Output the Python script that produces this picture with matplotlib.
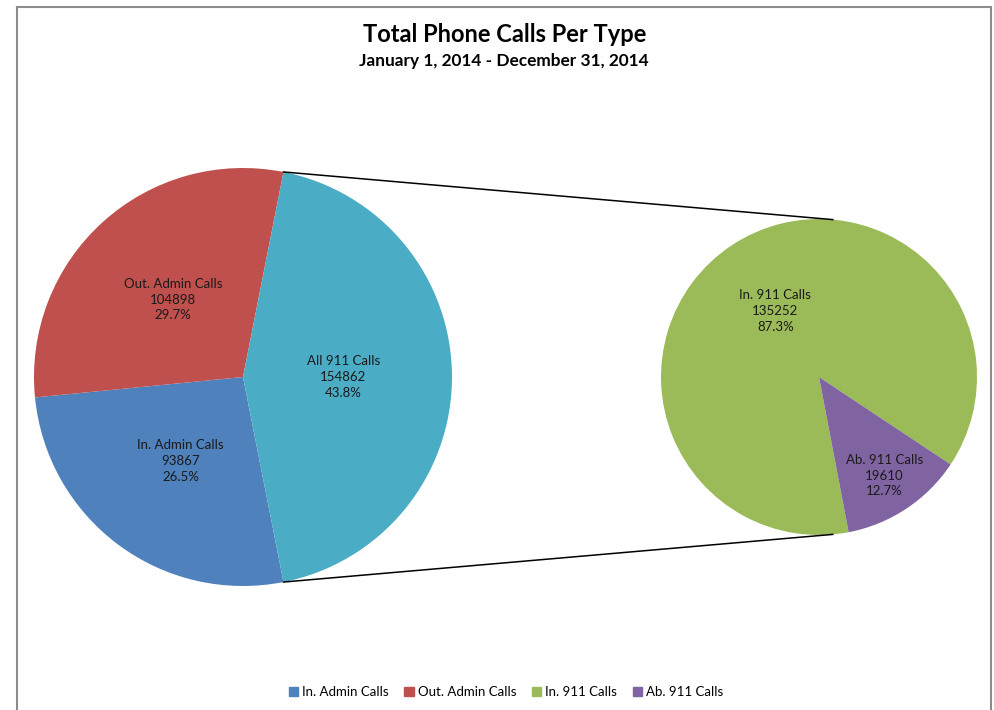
import matplotlib
matplotlib.use("Agg")
import matplotlib.pyplot as plt
import numpy as np
from matplotlib.patches import Patch
from matplotlib.lines import Line2D

plt.rcParams['font.family'] = ['Lato', 'DejaVu Sans']

# main pie: admin calls plus all 911 calls
main_labels = ["In. Admin Calls", "Out. Admin Calls", "All 911 Calls"]
main_values = [93867, 104898, 154862]
main_colors = ["#4F81BD", "#C0504D", "#4BACC6"]

# breakdown of the 911 calls
sub_labels = ["In. 911 Calls", "Ab. 911 Calls"]
sub_values = [135252, 19610]
sub_colors = ["#9BBB59", "#8064A2"]

W, H = 995, 710
fig = plt.figure(figsize=(W / 100, H / 100), dpi=100)
ax = fig.add_axes([0, 0, 1, 1])

c1, r1 = (243, 333), 209
c2, r2 = (819, 333), 158

frac_911 = main_values[2] / sum(main_values)
w1, _ = ax.pie(main_values, colors=main_colors, center=c1, radius=r1,
               startangle=-frac_911 * 180, counterclock=False,
               wedgeprops=dict(linewidth=0), frame=True)
w2, _ = ax.pie(sub_values, colors=sub_colors, center=c2, radius=r2,
               startangle=-33.6, counterclock=True,
               wedgeprops=dict(linewidth=0), frame=True)
ax.set_xlim(0, W)
ax.set_ylim(0, H)
ax.set_aspect('equal')
ax.axis('off')


def put_labels(wedges, labels, values, center, r, dists):
    tot = sum(values)
    for w, lab, v, d in zip(wedges, labels, values, dists):
        mid = np.deg2rad((w.theta1 + w.theta2) / 2)
        x = center[0] + d * r * np.cos(mid)
        y = center[1] + d * r * np.sin(mid)
        ax.text(x, y, f"{lab}\n{v}\n{v / tot * 100:.1f}%", ha='center',
                va='center', fontsize=9.5, color='#1a1a1a', linespacing=1.38)


put_labels(w1, main_labels, main_values, c1, r1, [0.5, 0.5, 0.48])
put_labels(w2, sub_labels, sub_values, c2, r2, [0.5, 0.75])

# connector lines from the 911 slice to the breakdown pie
big = w1[2]
for a1, a2 in [(big.theta1, -85), (big.theta2, 85)]:
    p = np.deg2rad(a1)
    q = np.deg2rad(a2)
    ax.plot([c1[0] + r1 * np.cos(p), c2[0] + r2 * np.cos(q)],
            [c1[1] + r1 * np.sin(p), c2[1] + r2 * np.sin(q)],
            color='black', lw=1.1)

ax.text(505, H - 35, "Total Phone Calls Per Type", ha='center',
        va='center', fontsize=17, fontweight='bold')
ax.text(504, H - 61, "January 1, 2014 - December 31, 2014", ha='center',
        va='center', fontsize=12.4, fontweight='bold')

handles = [Patch(color=c) for c in main_colors[:2] + sub_colors]
ax.legend(handles, main_labels[:2] + sub_labels, loc='center',
          bbox_to_anchor=(506 / W, 18 / H), ncol=4, frameon=False,
          fontsize=9.5, handlelength=0.7, handleheight=0.7,
          handletextpad=0.3, columnspacing=1.2)

# chart border
for xs, ys in [([17, 17], [0, H - 7]), ([17, 991], [H - 7, H - 7]),
               ([991, 991], [0, H - 7])]:
    ax.add_line(Line2D(xs, ys, color='#8c8c8c', lw=1.5))

fig.savefig("out.png", dpi=100)
